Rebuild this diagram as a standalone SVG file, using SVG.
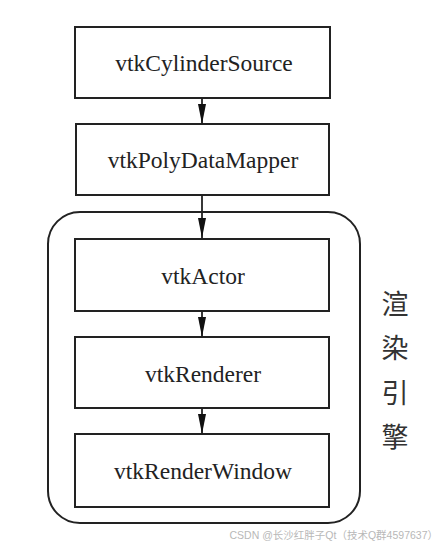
<svg xmlns="http://www.w3.org/2000/svg" width="446" height="546" viewBox="0 0 446 546">
<style>
.box{fill:#fff;stroke:#222;stroke-width:2}
.lbl{font-family:"Liberation Serif","Times New Roman",serif;font-size:23.5px;fill:#222;text-anchor:middle;dominant-baseline:central}
.zh{font-family:"Noto Sans CJK SC",sans-serif;font-size:27px;fill:#333;text-anchor:middle;dominant-baseline:central}
.wm{font-family:"Liberation Sans","Noto Sans CJK SC",sans-serif;font-size:10.5px;fill:#b8b8b8;text-anchor:end}
.edge{stroke:#222;stroke-width:1.8;fill:none}
</style>
<defs>
<marker id="arr" markerUnits="userSpaceOnUse" markerWidth="20" markerHeight="8" refX="20" refY="4" orient="auto" viewBox="0 0 20 8">
<path d="M0,0 L20,4 L0,8 Z" fill="#111"/>
</marker>
</defs>
<rect width="446" height="546" fill="#fff"/>
<g id="engine">
<rect x="48" y="212" width="312" height="311" rx="32" ry="32" fill="none" stroke="#222" stroke-width="2"/>
<text class="zh" x="395" y="302">渲</text>
<text class="zh" x="395" y="346">染</text>
<text class="zh" x="395" y="391">引</text>
<text class="zh" x="395" y="435">擎</text>
</g>
<g id="n1"><rect class="box" x="75" y="27" width="255" height="71"/><text class="lbl" x="204" y="63">vtkCylinderSource</text></g>
<g id="n2"><rect class="box" x="76" y="124" width="253" height="71"/><text class="lbl" x="203" y="160">vtkPolyDataMapper</text></g>
<g id="n3"><rect class="box" x="75" y="239" width="254" height="72"/><text class="lbl" x="203" y="276">vtkActor</text></g>
<g id="n4"><rect class="box" x="75" y="337" width="254" height="71"/><text class="lbl" x="203" y="374">vtkRenderer</text></g>
<g id="n5"><rect class="box" x="75" y="434" width="254" height="73"/><text class="lbl" x="203" y="471">vtkRenderWindow</text></g>
<g id="connectors">
<line class="edge" x1="202" y1="98" x2="202" y2="124" marker-end="url(#arr)"/>
<line class="edge" x1="202" y1="195" x2="202" y2="238" marker-end="url(#arr)"/>
<line class="edge" x1="202" y1="311" x2="202" y2="337" marker-end="url(#arr)"/>
<line class="edge" x1="202" y1="408" x2="202" y2="434" marker-end="url(#arr)"/>
</g>
<text class="wm" x="438" y="539">CSDN @长沙红胖子Qt（技术Q群4597637）</text>
</svg>
